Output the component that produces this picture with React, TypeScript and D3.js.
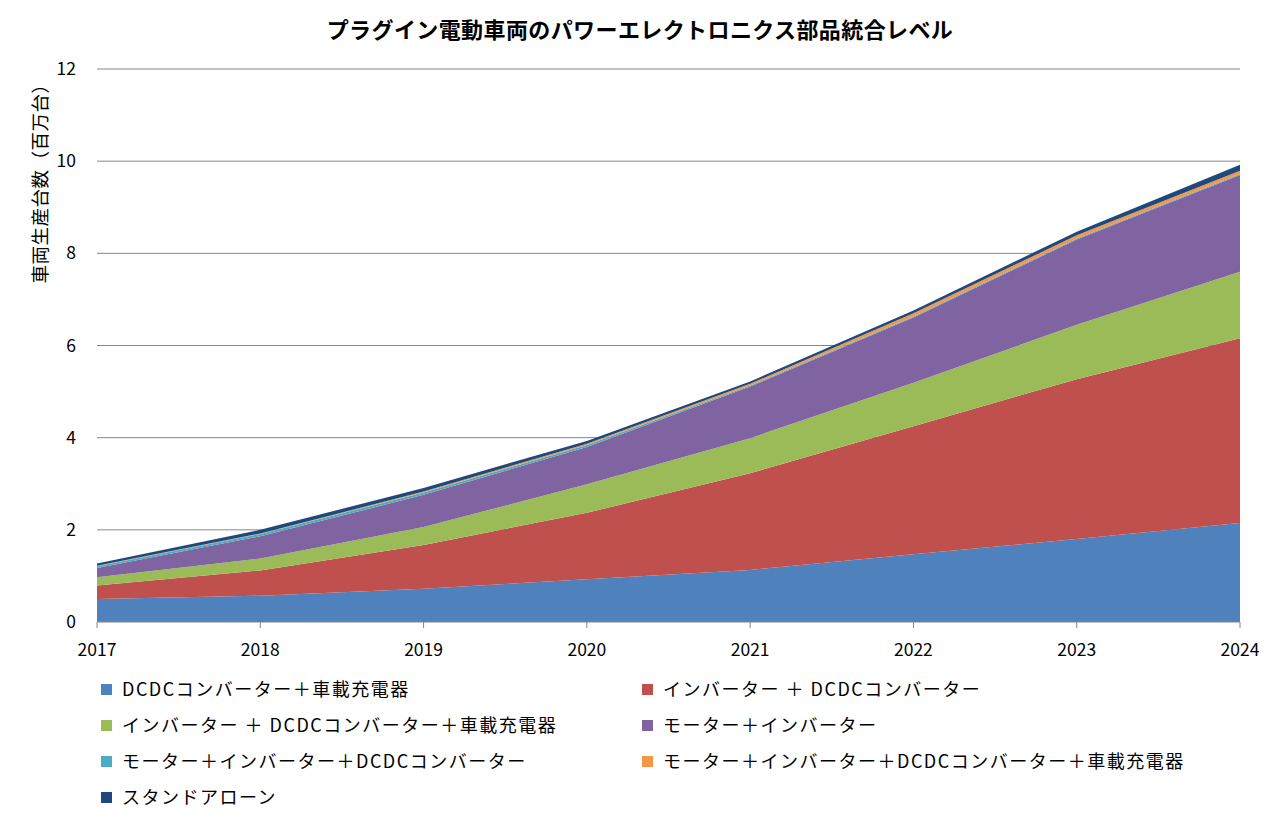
import React from "react";
import * as d3 from "d3";

const years = [2017, 2018, 2019, 2020, 2021, 2022, 2023, 2024];
const seriesNames = [
  "DCDCコンバーター＋車載充電器",
  "インバーター ＋ DCDCコンバーター",
  "インバーター ＋ DCDCコンバーター＋車載充電器",
  "モーター＋インバーター",
  "モーター＋インバーター＋DCDCコンバーター",
  "モーター＋インバーター＋DCDCコンバーター＋車載充電器",
  "スタンドアローン",
];
const dcdcCharger = [0.5, 0.57, 0.72, 0.93, 1.13, 1.47, 1.8, 2.15];
const invDcdc = [0.29, 0.55, 0.95, 1.44, 2.1, 2.78, 3.47, 4.01];
const invDcdcCharger = [0.18, 0.26, 0.39, 0.62, 0.76, 0.94, 1.18, 1.44];
const motorInv = [0.2, 0.48, 0.7, 0.81, 1.12, 1.42, 1.85, 2.1];
const motorInvDcdc = [0.04, 0.05, 0.05, 0.04, 0.02, 0.02, 0.02, 0.02];
const motorInvDcdcCharger = [0.01, 0.01, 0.02, 0.03, 0.04, 0.07, 0.07, 0.07];
const standalone = [0.05, 0.08, 0.08, 0.06, 0.05, 0.06, 0.08, 0.13];
const yTicks = [0, 2, 4, 6, 8, 10, 12];
const colors = ["#4F81BD", "#C0504D", "#9BBB59", "#8064A2", "#4BACC6", "#F79646", "#1F497D"];

const title = "プラグイン電動車両のパワーエレクトロニクス部品統合レベル";
const yLabel = "車両生産台数（百万台）";

export default function App() {
  const W = 1280, H = 824;
  const left = 97, right = 1240, top = 69, bottom = 622;
  const x = d3.scaleLinear().domain([2017, 2024]).range([left, right]);
  const y = d3.scaleLinear().domain([0, 12]).range([bottom, top]);
  const allSeries = [dcdcCharger, invDcdc, invDcdcCharger, motorInv, motorInvDcdc, motorInvDcdcCharger, standalone];
  const rows = years.map((yr, i) => {
    const r: any = { year: yr };
    allSeries.forEach((s, k) => (r["s" + k] = s[i]));
    return r;
  });
  const keys = allSeries.map((_, k) => "s" + k);
  const stacked = d3.stack().keys(keys)(rows);
  const area = d3
    .area<any>()
    .x((d) => x(d.data.year))
    .y0((d) => y(d[0]))
    .y1((d) => y(d[1]));
  const font = "'Noto Sans CJK JP', 'Noto Sans', sans-serif";
  const legendPos = [
    [107, 690], [648, 690],
    [107, 726], [648, 726],
    [107, 762], [648, 762],
    [107, 798],
  ];
  return (
    <svg width={W} height={H} style={{ position: "absolute", left: 0, top: 0, background: "#fff" }} fontFamily={font}>
      <text x={640} y={38} textAnchor="middle" fontSize={22} letterSpacing={0.4} fontWeight="bold" fill="#000">{title}</text>
      {yTicks.map((t) => (
        <g key={t}>
          {t > 0 && <line x1={left} x2={right} y1={y(t)} y2={y(t)} stroke="#868686" strokeWidth={1} />}
          <text x={76} y={y(t)} dy="0.35em" textAnchor="end" fontSize={17.5} fill="#000">{t}</text>
        </g>
      ))}
      {stacked.map((s, k) => (
        <path key={k} d={area(s as any) || ""} fill={colors[k]} stroke="none" />
      ))}
      <line x1={left} x2={right} y1={bottom} y2={bottom} stroke="#868686" strokeWidth={1} />
      {years.map((yr) => (
        <g key={yr}>
          <line x1={x(yr)} x2={x(yr)} y1={bottom} y2={bottom + 6} stroke="#868686" />
          <text x={x(yr)} y={656} textAnchor="middle" fontSize={17.5} fill="#000">{yr}</text>
        </g>
      ))}
      <text transform={`translate(47,179) rotate(-90)`} textAnchor="middle" fontSize={18.5} letterSpacing={0.5} fill="#000">{yLabel}</text>
      {seriesNames.map((n, k) => (
        <g key={k}>
          <rect x={legendPos[k][0] - 6} y={legendPos[k][1] - 6} width={11} height={11} fill={colors[k]} />
          <text x={legendPos[k][0] + 15} y={legendPos[k][1]} dy="0.35em" fontSize={18} letterSpacing={1.5} fill="#000">{n}</text>
        </g>
      ))}
    </svg>
  );
}
